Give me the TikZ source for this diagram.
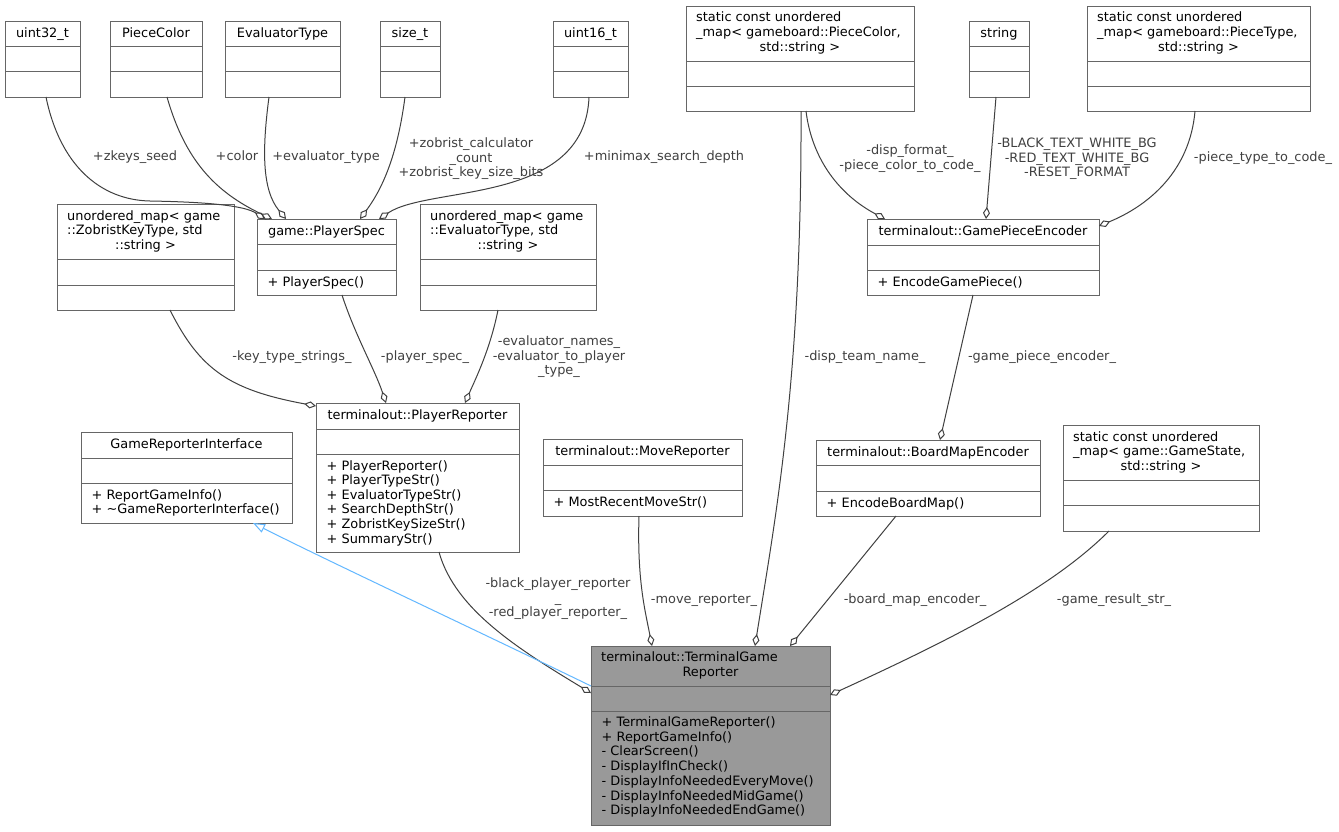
\documentclass[tikz,border=0pt]{standalone}
\usepackage{fontspec}
\setmainfont{DejaVu Sans}
\usetikzlibrary{arrows.meta,fit}
\definecolor{boxc}{HTML}{666666}
\definecolor{edgec}{HTML}{404040}
\definecolor{inhc}{HTML}{63B8FF}
\definecolor{focusc}{HTML}{999999}
\definecolor{labc}{HTML}{404040}
\newcommand{\dxf}{\fontsize{12.9}{14.6}\selectfont}
\newcommand{\ubox}[8][]{%
  \node[ubx,#1,fit={(#3,#4) (#5,#6)}] (#2) {};
  \draw[ubl] (#3,#7) -- (#5,#7);
  \draw[ubl] (#3,#8) -- (#5,#8);
}
\tikzset{
  ubx/.style={draw=boxc, line width=1pt, fill=white, inner sep=0pt, outer sep=0pt},
  ubl/.style={draw=boxc, line width=1pt},
  hd/.style={font=\dxf, inner sep=0pt, anchor=base, text=black},
  hdl/.style={hd, anchor=base west},
  mem/.style={hd, anchor=base west},
  lab/.style={font=\dxf, inner sep=0pt, anchor=base, text=labc},
  agg/.style={draw=edgec, line width=1pt, -{Diamond[open, length=12pt, width=7pt]}},
  inh/.style={draw=inhc, line width=1pt, -{Triangle[open, length=12pt, width=9pt]}},
}
\begin{document}
\begin{tikzpicture}[x=1pt,y=-1pt]
\fill[white] (0,0) rectangle (1339,831);
\useasboundingbox (0,0) rectangle (1339,831);

% ---------- boxes ----------
\ubox{u32}{5}{21}{80}{97}{46}{71}
\node[hd] (u32t) at (42.5,37.5) {uint32\_t};
\ubox{pc}{110}{21}{202}{97}{46}{71}
\node[hd] (pct) at (156,37.5) {PieceColor};
\ubox{et}{225}{21}{340}{97}{46}{71}
\node[hd] (ett) at (282.5,37.5) {EvaluatorType};
\ubox{st}{380}{21}{440}{97}{46}{71}
\node[hd] (stt) at (410,37.5) {size\_t};
\ubox{u16}{553}{21}{628}{97}{46}{71}
\node[hd] (u16t) at (590.5,37.5) {uint16\_t};

\ubox{mpc}{686}{6}{914}{111}{61}{86}
\node[hdl] (mpc1) at (696,21.8) {static const unordered};
\node[hdl] (mpc2) at (696,36.4) {\_map< gameboard::PieceColor,};
\node[hd] (mpc3) at (800,51) {std::string >};

\ubox{str}{969}{21}{1029}{97}{46}{71}
\node[hd] (strt) at (999,37.5) {string};

\ubox{mpt}{1087}{6}{1310}{111}{61}{86}
\node[hdl] (mpt1) at (1097,21.8) {static const unordered};
\node[hdl] (mpt2) at (1097,36.4) {\_map< gameboard::PieceType,};
\node[hd] (mpt3) at (1198.5,51) {std::string >};

\ubox{mzk}{57}{204}{234}{310}{259}{285}
\node[hdl] (mzk1) at (67,220) {unordered\_map< game};
\node[hdl] (mzk2) at (67,234.6) {::ZobristKeyType, std};
\node[hd] (mzk3) at (145.5,249.2) {::string >};

\ubox{ps}{257}{219}{396}{295}{244}{270}
\node[hd] (pst) at (326.5,235) {game::PlayerSpec};
\node[mem] (psm) at (267.5,286) {+ PlayerSpec()};

\ubox{mev}{420}{204}{596}{310}{259}{285}
\node[hdl] (mev1) at (430,220) {unordered\_map< game};
\node[hdl] (mev2) at (430,234.6) {::EvaluatorType, std};
\node[hd] (mev3) at (508,249.2) {::string >};

\ubox{gpe}{867}{219}{1099}{295}{245}{270}
\node[hd] (gpet) at (983,235) {terminalout::GamePieceEncoder};
\node[mem] (gpem) at (877.5,286) {+ EncodeGamePiece()};

\ubox{pr}{316}{403}{519}{552}{429}{454}
\node[hd] (prt) at (417.5,419.5) {terminalout::PlayerReporter};
\foreach \t [count=\i from 0] in {{+ PlayerReporter()},{+ PlayerTypeStr()},{+ EvaluatorTypeStr()},{+ SearchDepthStr()},{+ ZobristKeySizeStr()},{+ SummaryStr()}}
  \node[mem] (prm\i) at (326.5,{470+14.6*\i}) {\t};

\ubox{gri}{81}{432}{292}{523}{458}{483}
\node[hd] (grit) at (186.5,448.5) {GameReporterInterface};
\node[mem] (grim0) at (91.5,499) {+ ReportGameInfo()};
\node[mem] (grim1) at (91.5,513.6) {+ \textasciitilde GameReporterInterface()};

\ubox{mr}{543}{439}{742}{516}{465}{490}
\node[hd] (mrt) at (642.5,455.5) {terminalout::MoveReporter};
\node[mem] (mrm) at (553.5,506.5) {+ MostRecentMoveStr()};

\ubox{bme}{816}{440}{1040}{516}{465}{491}
\node[hd] (bmet) at (928,456) {terminalout::BoardMapEncoder};
\node[mem] (bmem) at (826.5,507) {+ EncodeBoardMap()};

\ubox{mgs}{1063}{425}{1259}{531}{480}{505}
\node[hdl] (mgs1) at (1073,441) {static const unordered};
\node[hdl] (mgs2) at (1073,455.6) {\_map< game::GameState,};
\node[hd] (mgs3) at (1161,470.2) {std::string >};

\ubox[fill=focusc]{tgr}{591}{646}{830}{825}{686}{711}
\node[hdl] (tgr1) at (601,661.5) {terminalout::TerminalGame};
\node[hd] (tgr2) at (710.5,676.1) {Reporter};
\foreach \t [count=\i from 0] in {{+ TerminalGameReporter()},{+ ReportGameInfo()},{- ClearScreen()},{- DisplayIfInCheck()},{- DisplayInfoNeededEveryMove()},{- DisplayInfoNeededMidGame()},{- DisplayInfoNeededEndGame()}}
  \node[mem] (tgrm\i) at (601.5,{726.5+14.7*\i}) {\t};

% ---------- connectors ----------
\draw[agg] ([xshift=41pt]u32.south west) .. controls (60,165) and (100,200) .. (150,201) .. controls (210,202) and (245,206) .. ([xshift=8pt]ps.north west);
\draw[agg] ([xshift=57pt]pc.south west) .. controls (185,160) and (215,192) .. ([xshift=15pt]ps.north west);
\draw[agg] ([xshift=44pt]et.south west) .. controls (262,150) and (262,190) .. ([xshift=29pt]ps.north west);
\draw[agg] ([xshift=25pt]st.south west) .. controls (398,150) and (385,185) .. ([xshift=103pt]ps.north west);
\draw[agg] ([xshift=36pt]u16.south west) .. controls (585,205) and (430,185) .. ([xshift=122pt]ps.north west);
\draw[agg] ([xshift=113pt]mzk.south west) .. controls (200,370) and (230,390) .. ([yshift=-3pt]pr.north west);
\draw[agg] ([xshift=85pt]ps.south west) .. controls (355,335) and (375,370) .. ([xshift=70pt]pr.north west);
\draw[agg] ([xshift=78pt]mev.south west) .. controls (490,350) and (475,380) .. ([xshift=149pt]pr.north west);
\draw[agg] ([xshift=120pt]mpc.south west) .. controls (812,160) and (840,195) .. ([xshift=18pt]gpe.north west);
\draw[agg] ([xshift=27pt]str.south west) -- ([xshift=119pt]gpe.north west);
\draw[agg] ([xshift=108pt]mpt.south west) .. controls (1190,170) and (1150,205) .. ([yshift=-7pt]gpe.north east);
\draw[agg] ([xshift=115pt]mpc.south west) .. controls (802,380) and (775,520) .. ([xshift=164pt]tgr.north west);
\draw[agg] ([xshift=106pt]gpe.south west) -- ([xshift=124pt]bme.north west);
\draw[agg] ([xshift=123pt]pr.south west) .. controls (455,610) and (520,650) .. ([yshift=-47pt]tgr.north west);
\draw[agg] ([xshift=96pt]mr.south west) .. controls (637,580) and (645,610) .. ([xshift=61pt]tgr.north west);
\draw[agg] ([xshift=80pt]bme.south west) -- ([xshift=199pt]tgr.north west);
\draw[agg] ([xshift=46pt]mgs.south west) .. controls (1050,590) and (950,640) .. ([yshift=-49pt]tgr.north east);
\draw[inh] ([yshift=-40pt]tgr.north west) .. controls (480,632) and (330,562) .. ([xshift=172pt]gri.south west);

% ---------- connector labels ----------
\node[lab] (lzk) at (135,160.5) {+zkeys\_seed};
\node[lab] (lcol) at (237,160.5) {+color};
\node[lab] (levt) at (326,160.5) {+evaluator\_type};
\node[lab] (lzc1) at (471,147.5) {+zobrist\_calculator};
\node[lab] (lzc2) at (471,162.1) {\_count};
\node[lab] (lzc3) at (471,176.7) {+zobrist\_key\_size\_bits};
\node[lab] (lmm) at (664,160.5) {+minimax\_search\_depth};
\node[lab] (ldf1) at (910,154.5) {-disp\_format\_};
\node[lab] (ldf2) at (910,169.1) {-piece\_color\_to\_code\_};
\node[lab] (lbt1) at (1077,147.7) {-BLACK\_TEXT\_WHITE\_BG};
\node[lab] (lbt2) at (1077,162.3) {-RED\_TEXT\_WHITE\_BG};
\node[lab] (lbt3) at (1077,176.9) {-RESET\_FORMAT};
\node[lab] (lpt) at (1263,161.5) {-piece\_type\_to\_code\_};
\node[lab] (lkt) at (292,360.5) {-key\_type\_strings\_};
\node[lab] (lps) at (425,360.5) {-player\_spec\_};
\node[lab] (len1) at (559,345.5) {-evaluator\_names\_};
\node[lab] (len2) at (559,360.1) {-evaluator\_to\_player};
\node[lab] (len3) at (559,374.7) {\_type\_};
\node[lab] (ldtn) at (865,360.5) {-disp\_team\_name\_};
\node[lab] (lgpe) at (1042,360.5) {-game\_piece\_encoder\_};
\node[lab] (lbp1) at (558,587.5) {-black\_player\_reporter};
\node[lab] (lbp2) at (558,602.1) {\_};
\node[lab] (lbp3) at (558,616.7) {-red\_player\_reporter\_};
\node[lab] (lmv) at (704,603) {-move\_reporter\_};
\node[lab] (lbm) at (915,603) {-board\_map\_encoder\_};
\node[lab] (lgr) at (1114,603) {-game\_result\_str\_};
\end{tikzpicture}
\end{document}
